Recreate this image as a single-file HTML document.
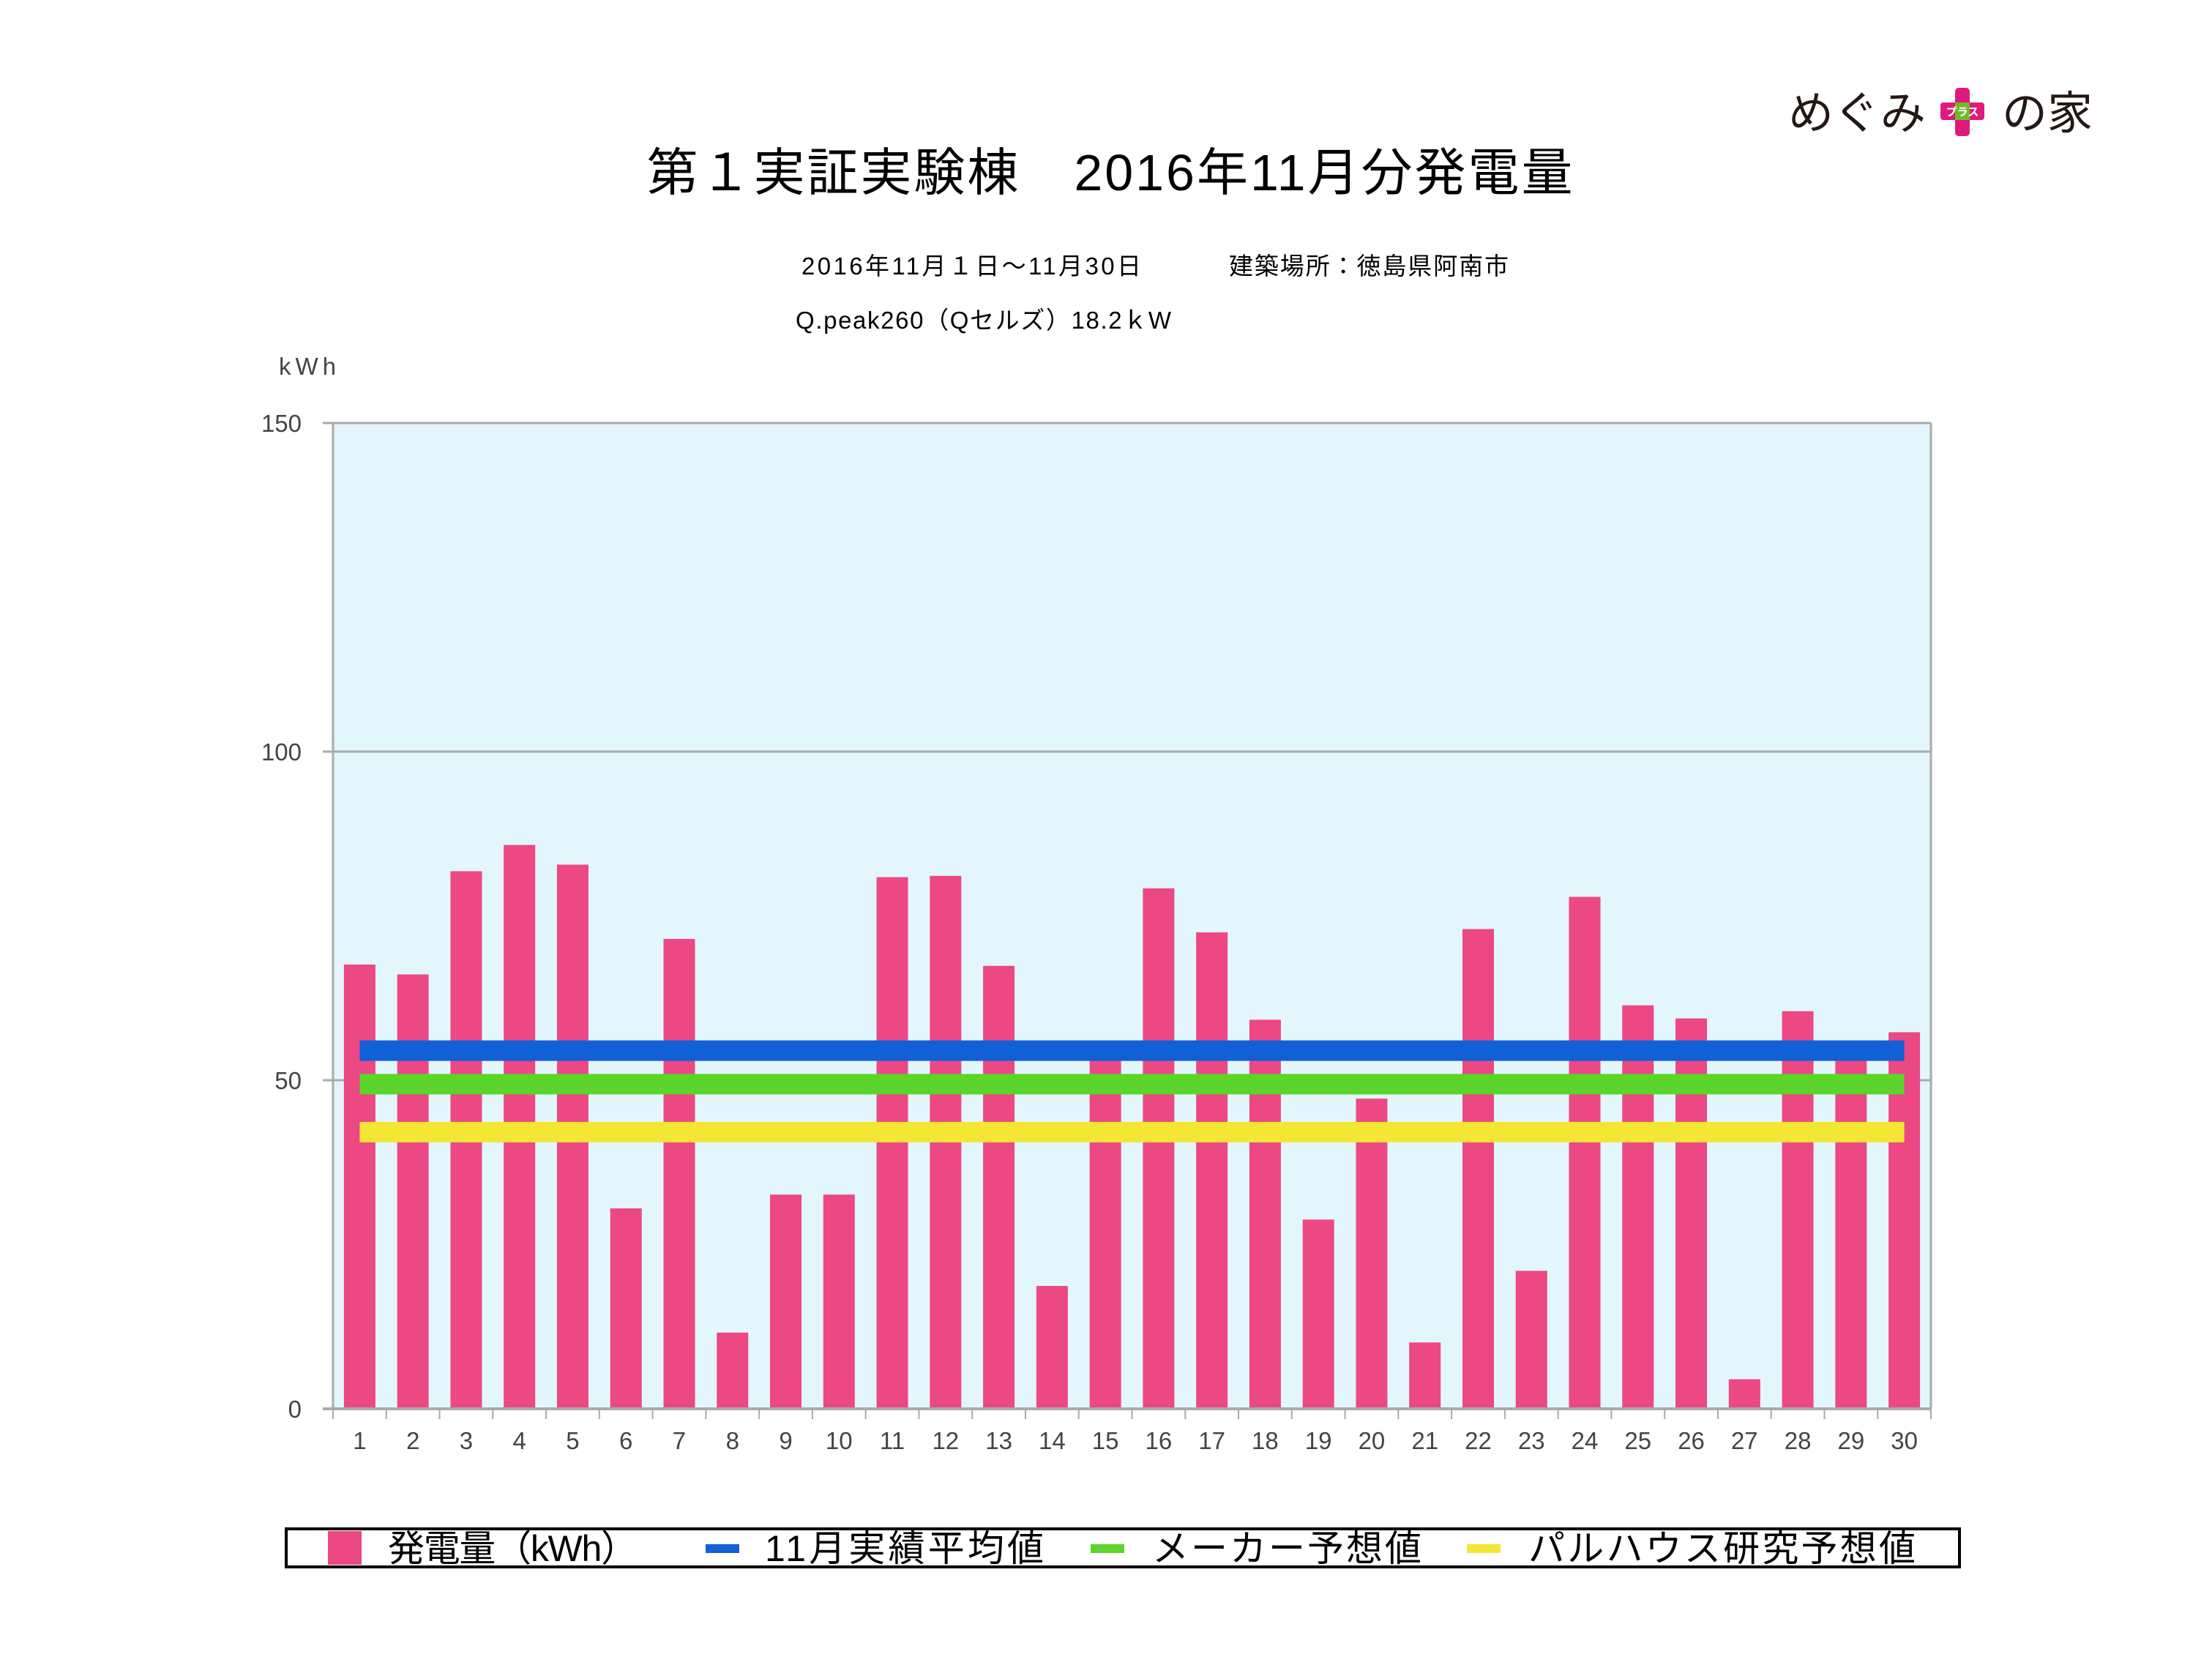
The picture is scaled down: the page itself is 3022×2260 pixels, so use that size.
<!DOCTYPE html>
<html><head><meta charset="utf-8"><style>
html,body{margin:0;padding:0;background:#fff;}
svg{display:block;font-family:"Liberation Sans","Noto Sans CJK JP",sans-serif;}
</style></head><body>
<svg id="chart" width="3022" height="2260" viewBox="0 0 3022 2260">
<g>
<text x="2443" y="176" font-size="62" fill="#231815">めぐみ</text>
<rect x="2671" y="120" width="20" height="66" rx="5" fill="#e0197d"/>
<rect x="2651" y="140" width="60" height="24" rx="4" fill="#e0197d"/>
<rect x="2671" y="140" width="20" height="24" fill="#6fba2c"/>
<text x="2681" y="158" font-size="15" fill="#fff" text-anchor="middle" font-weight="bold">プラス</text>
<text x="2735" y="176" font-size="62" fill="#231815">の家</text>
</g>
<text x="1516" y="260" font-size="70" text-anchor="middle" fill="#000" textLength="1265">第１実証実験棟　2016年11月分発電量</text>
<text x="1095" y="375" font-size="33" fill="#000" textLength="464">2016年11月１日〜11月30日</text>
<text x="1679" y="375" font-size="33" fill="#000" textLength="382">建築場所：徳島県阿南市</text>
<text x="1087" y="449" font-size="33" fill="#000" textLength="513">Q.peak260（Qセルズ）18.2ｋW</text>
<text x="381" y="512" font-size="33" fill="#444" textLength="78">kWh</text>
<rect x="455" y="578" width="2183" height="1347" fill="#e3f6fd"/>
<g id="grid"></g>
<g id="bars"></g>
<g id="lines"></g>
<g id="axes"></g>
<g>
<rect x="391" y="2089" width="2286" height="52" fill="#fff" stroke="#000" stroke-width="4"/>
<rect x="448" y="2092" width="46" height="46" fill="#eb4884"/>
<text x="530" y="2133" font-size="50" fill="#000" textLength="341">発電量（kWh）</text>
<rect x="964" y="2110" width="46" height="12" fill="#1160d6"/>
<text x="1045" y="2133" font-size="50" fill="#000" textLength="381">11月実績平均値</text>
<rect x="1490" y="2110" width="46" height="12" fill="#5bd42c"/>
<text x="1574" y="2133" font-size="50" fill="#000" textLength="368">メーカー予想値</text>
<rect x="2004" y="2110" width="46" height="12" fill="#f4e635"/>
<text x="2088" y="2133" font-size="50" fill="#000" textLength="529">パルハウス研究予想値</text>
</g>
</svg>
<script>
const categories = ["1","2","3","4","5","6","7","8","9","10","11","12","13","14","15","16","17","18","19","20","21","22","23","24","25","26","27","28","29","30"];
const generation = [67.6,66.1,81.8,85.8,82.8,30.5,71.5,11.6,32.6,32.6,80.9,81.1,67.4,18.7,53,79.2,72.5,59.2,28.8,47.2,10.1,73.0,21.0,77.9,61.4,59.4,4.5,60.5,53,57.3];
const averageValue = [54.5];
const makerValue = [49.4];
const palhouseValue = [42.1];
const yTicks = [0,50,100,150];

const NS="http://www.w3.org/2000/svg";
const L=455,R=2638,T=578,B=1925,yMax=150;
const step=(R-L)/categories.length;
function xC(i){return L+step*(i+0.5);}
function y(v){return B-(v/yMax)*(B-T);}
function mk(tag,attrs,parent){const e=document.createElementNS(NS,tag);for(const k in attrs)e.setAttribute(k,attrs[k]);parent.appendChild(e);return e;}
const grid=document.getElementById('grid'),bars=document.getElementById('bars'),lines=document.getElementById('lines'),axes=document.getElementById('axes');
yTicks.forEach(t=>{
  if(t>0){const g=mk('line',{x1:L,x2:R,y1:y(t),y2:y(t),stroke:'#aaa','stroke-width':3},grid);
  
  }
  const tk=mk('line',{x1:L-14,x2:L,y1:y(t),y2:y(t),stroke:'#aaa','stroke-width':3},axes);
  
  
  const tx=mk('text',{x:412,y:y(t)+12,'font-size':33,fill:'#444','text-anchor':'end'},axes);
  tx.textContent=t;
  
  
});
generation.forEach((v,i)=>{
  const r=mk('rect',{x:xC(i)-21.5,y:y(v),width:43,height:B-y(v),fill:'#eb4884'},bars);
  
  
});
[[averageValue[0],'#1160d6','average-line'],[makerValue[0],'#5bd42c','maker-line'],[palhouseValue[0],'#f4e635','palhouse-line']].forEach(d=>{
  const r=mk('rect',{x:xC(0),y:y(d[0])-14,width:xC(categories.length-1)-xC(0),height:28,fill:d[1]},lines);
  
  
});
const ax=mk('line',{x1:L,x2:L,y1:T,y2:B,stroke:'#aaa','stroke-width':3},axes);


const ar=mk('line',{x1:R,x2:R,y1:T,y2:B,stroke:'#aaa','stroke-width':3},axes);


const at=mk('line',{x1:L,x2:R,y1:T,y2:T,stroke:'#aaa','stroke-width':3},axes);


const xa=mk('line',{x1:L-14,x2:R,y1:B,y2:B,stroke:'#aaa','stroke-width':4},axes);


for(let i=0;i<=categories.length;i++){
  const tk=mk('line',{x1:L+step*i,x2:L+step*i,y1:B,y2:B+14,stroke:'#aaa','stroke-width':2},axes);
  
  
}
categories.forEach((c,i)=>{
  const t=mk('text',{x:xC(i),y:1980,'font-size':33,fill:'#444','text-anchor':'middle'},axes);
  t.textContent=c;
  
  
});
</script>
</body></html>
